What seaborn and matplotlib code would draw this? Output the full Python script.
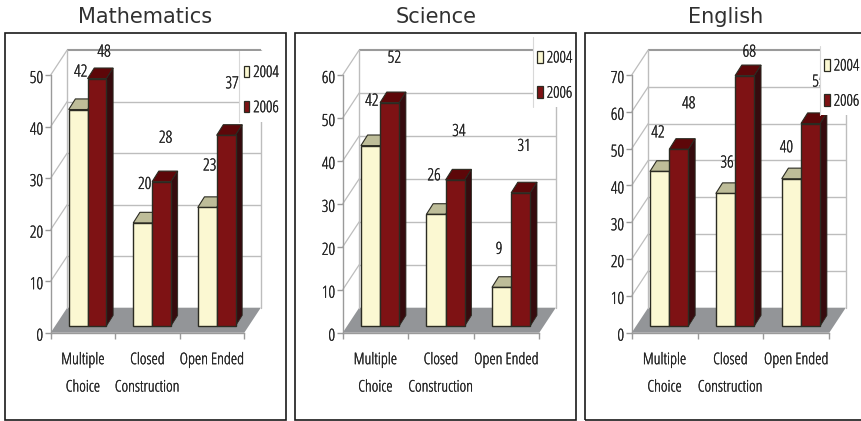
import numpy as np
import pandas as pd
import seaborn as sns
import matplotlib
matplotlib.use("Agg")
import matplotlib.pyplot as plt
import matplotlib.patheffects as pe
from matplotlib.lines import Line2D
from matplotlib.patches import Patch, Polygon, Rectangle
from matplotlib.transforms import ScaledTranslation

# ---- chart values ----
categories = ["Multiple\nChoice", "Closed\nConstruction", "Open Ended"]
years = ["2004", "2006"]
subjects = ["Mathematics", "Science", "English"]
math_2004 = [42, 20, 23]
math_2006 = [48, 28, 37]
science_2004 = [42, 26, 9]
science_2006 = [52, 34, 31]
english_2004 = [42, 36, 40]
english_2006 = [48, 68, 55]
y_limits = [50, 60, 70]

# ---- layout, in pixels of the 861x421 canvas ----
W, H = 861, 421
AXIS_SPANS = [(50.7, 244.3), (342.7, 539.3), (631.7, 829.3)]
AXIS_BOTTOM, AXIS_TOP = 332.7, 75.0
WALL_DX, WALL_DY = 16.5, 25.0
BAR_SHIFT_X, BAR_SHIFT_Y = 4.6, 6.7
BAR_DX, BAR_DY = 6.7, 10.6
FRAMES = [(5, 286), (295, 576), (585, 875)]
FRAME_TOP, FRAME_BOTTOM = 32.7, 420
TITLE_X = [145, 436, 726]
LEGEND_BACK = [(239, 51, 46, 71), (533.3, 37, 42, 70), (820, 46, 41, 69)]
LEGEND_ANCHOR = [(243.5, 65), (537, 50.5), (824, 58.5)]
# label displacement from the bar's top edge: (right, up) for 2004 then 2006
LABEL_OFFSETS = [
    [[(2.5, 37), (2, 38), (2.5, 41)], [(7, 26), (4, 43), (6, 51)]],
    [[(1.3, 44), (-2, 38), (-2.6, 37.5)], [(4.7, 44), (3.7, 48), (3.4, 46)]],
    [[(-1.7, 38), (1.6, 30), (-5, 30.5)], [(9.8, 45), (4.5, 23), (8.3, 41)]],
]

LIGHT, LIGHT_TOP = "#FBF8D2", "#BEBD99"
DARK, DARK_TOP, DARK_SIDE = "#7E1214", "#5D0709", "#360B0E"
FLOOR, GRID, AXIS = "#939598", "#BDBDBD", "#9A9A9A"
TEXT, EDGE = "#222222", "#2B2B22"
VALUE_SIZE, CATEGORY_SIZE = 12, 11.5
# the condensed face is light; a hairline stroke brings it to regular weight
THICKEN = [pe.withStroke(linewidth=0.2, foreground=TEXT)]

sns.set_theme(style="white")
plt.rcParams["font.family"] = ["Open Sans", "DejaVu Sans"]
plt.rcParams["font.stretch"] = "condensed"

fig = plt.figure(figsize=(W / 100, H / 100), dpi=100, facecolor="white")


def panel(idx, values_2004, values_2006):
    x0, x1 = AXIS_SPANS[idx]
    ymax = y_limits[idx]
    ax = fig.add_axes([x0 / W, 1 - AXIS_BOTTOM / H, (x1 - x0) / W, (AXIS_BOTTOM - AXIS_TOP) / H])
    ax.patch.set_alpha(0)

    frame = pd.DataFrame({
        "category": categories * 2,
        "year": [years[0]] * 3 + [years[1]] * 3,
        "value": list(values_2004) + list(values_2006),
    })
    sns.barplot(data=frame, x="category", y="value", hue="year", ax=ax,
                palette=[LIGHT, DARK], width=0.585, gap=0, legend=False,
                saturation=1, edgecolor=EDGE, linewidth=1.0, zorder=3)
    ax.set_xlim(-0.5, 2.5)
    ax.set_ylim(0, ymax)
    ax.set_xlabel("")
    ax.set_ylabel("")

    # pixel-to-data factors for the oblique projection
    sx = 3 / (x1 - x0)
    sy = ymax / (AXIS_BOTTOM - AXIS_TOP)
    wdx, wdy = WALL_DX * sx, WALL_DY * sy

    # floor and back wall
    ax.add_patch(Polygon([(-0.5, 0), (2.5, 0), (2.5 + wdx, wdy), (-0.5 + wdx, wdy)],
                         closed=True, fc=FLOOR, ec="none", zorder=1, clip_on=False))
    ticks = np.arange(0, ymax + 1, 10)
    for t in ticks[1:]:
        top = t == ymax
        ax.plot([-0.5 + wdx, 2.5 + wdx], [t + wdy] * 2, color=AXIS if top else GRID,
                lw=1.5 if top else 1.0, zorder=1.2, clip_on=False, solid_capstyle="butt")
        ax.plot([-0.5, -0.5 + wdx], [t, t + wdy], color=GRID, lw=0.9, zorder=1.2, clip_on=False)
    for xb in (-0.5 + wdx, 2.5 + wdx):
        ax.plot([xb, xb], [wdy, ymax + wdy], color=GRID, lw=1.0, zorder=1.2, clip_on=False)

    # bars: move them onto the floor and add their top and side faces
    for h, (container, offsets) in enumerate(zip(ax.containers, LABEL_OFFSETS[idx])):
        for bar, off in zip(container, offsets):
            bar.set_x(bar.get_x() + BAR_SHIFT_X * sx)
            bar.set_y(BAR_SHIFT_Y * sy)
            bar.set_clip_on(False)
            left, w = bar.get_x(), bar.get_width()
            base, top = bar.get_y(), bar.get_y() + bar.get_height()
            ddx, ddy = BAR_DX * sx, BAR_DY * sy
            ax.add_patch(Polygon([(left, top), (left + w, top), (left + w + ddx, top + ddy), (left + ddx, top + ddy)],
                                 closed=True, fc=LIGHT_TOP if h == 0 else DARK_TOP, ec=EDGE,
                                 lw=0.8, zorder=2.5, clip_on=False))
            if h == 1:
                ax.add_patch(Polygon([(left + w, base), (left + w + ddx, base + ddy),
                                      (left + w + ddx, top + ddy), (left + w, top)],
                                     closed=True, fc=DARK_SIDE, ec=EDGE, lw=0.6, zorder=2.5, clip_on=False))
            ax.annotate(f"{bar.get_height():.0f}", xy=(left + w / 2, top), xytext=off,
                        textcoords="offset pixels", ha="center", va="center",
                        fontsize=VALUE_SIZE, color=TEXT, zorder=6, annotation_clip=False,
                        path_effects=THICKEN)

    # axes and ticks
    for name in ("top", "right"):
        ax.spines[name].set_visible(False)
    for name in ("left", "bottom"):
        ax.spines[name].set_color(AXIS)
        ax.spines[name].set_linewidth(1.0)
    ax.set_yticks(ticks)
    ax.set_xticks(range(3))
    ax.set_xticklabels(categories, linespacing=1.95)
    ax.set_xticks([-0.5, 0.5, 1.5, 2.5], minor=True)
    ax.tick_params(axis="x", which="major", length=0, pad=14, labelsize=CATEGORY_SIZE, labelcolor=TEXT)
    ax.tick_params(axis="x", which="minor", length=4, color=AXIS, width=1, bottom=True)
    ax.tick_params(axis="y", length=4, color=AXIS, width=1, pad=1.5, labelsize=VALUE_SIZE,
                   labelcolor=TEXT, left=True)
    for tick_text in ax.get_xticklabels():
        tick_text.set_path_effects(THICKEN)
    nudge = ScaledTranslation(0, -2 / 100, fig.dpi_scale_trans)
    for tick_text in ax.get_yticklabels():
        tick_text.set_path_effects(THICKEN)
        tick_text.set_transform(tick_text.get_transform() + nudge)

    # legend on its white backing
    bx, by, bw, bh = LEGEND_BACK[idx]
    ax.add_patch(Rectangle((bx / W, 1 - (by + bh) / H), bw / W, bh / H, transform=fig.transFigure,
                           fc="white", ec="none", zorder=8, clip_on=False))
    ax.add_line(Line2D([bx / W] * 2, [1 - (by + bh) / H, 1 - by / H], transform=fig.transFigure,
                       color="#D8D8D8", lw=0.8, zorder=8.5, clip_on=False))
    handles = [Patch(fc=LIGHT, ec=EDGE, lw=0.9, label=years[0]),
               Patch(fc=DARK, ec=EDGE, lw=0.9, label=years[1])]
    ax_x, ax_y = LEGEND_ANCHOR[idx]
    leg = ax.legend(handles=handles, loc="upper left",
                    bbox_to_anchor=(ax_x / W, 1 - ax_y / H), bbox_transform=fig.transFigure,
                    frameon=False, fontsize=CATEGORY_SIZE, handlelength=0.36, handleheight=0.75,
                    handletextpad=0.25, labelspacing=1.2, borderpad=0, borderaxespad=0)
    for label in leg.get_texts():
        label.set_color(TEXT)
        label.set_path_effects(THICKEN)
    leg.set_zorder(9)

    fig.text(TITLE_X[idx] / W, 1 - 17 / H, subjects[idx], ha="center", va="center",
             fontsize=15, color="#303030", family="DejaVu Sans", stretch="normal")

    fx0, fx1 = FRAMES[idx]
    fig.add_artist(Rectangle((fx0 / W, 1 - FRAME_BOTTOM / H), (fx1 - fx0) / W,
                             (FRAME_BOTTOM - FRAME_TOP) / H, transform=fig.transFigure,
                             fc="none", ec="#1A1A1A", lw=1.2, zorder=20))


panel(0, math_2004, math_2006)
panel(1, science_2004, science_2006)
panel(2, english_2004, english_2006)

fig.savefig("out.png", dpi=100)
